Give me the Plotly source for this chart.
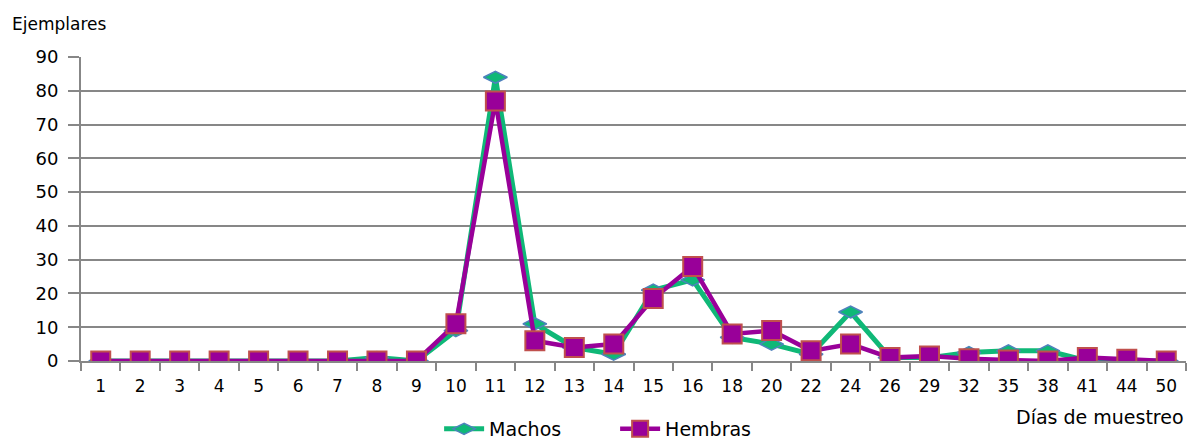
import plotly.graph_objects as go

# Sampling days (categorical axis) and counts per sex
dias = ["1", "2", "3", "4", "5", "6", "7", "8", "9", "10", "11", "12", "13", "14",
        "15", "16", "18", "20", "22", "24", "26", "29", "32", "35", "38", "41", "44", "50"]
machos = [0, 0, 0, 0, 0, 0, 0, 1, 0, 9, 84, 11, 4, 2,
          21, 24, 7, 5, 2, 14.5, 1, 1, 2.5, 3, 3, 0, 0, 0]
hembras = [0, 0, 0, 0, 0, 0, 0, 0, 0, 11, 77, 6, 4, 5,
           18.5, 28, 8, 9, 3, 5, 1, 1.5, 0.7, 0.3, 0, 1, 0.5, 0]

y_ticks = [0, 10, 20, 30, 40, 50, 60, 70, 80, 90]

FONT = "DejaVu Sans"
GRID = "#878787"

fig = go.Figure()
fig.add_trace(go.Scatter(
    x=dias, y=machos, name="Machos", mode="lines+markers",
    line=dict(color="#0fb877", width=5),
    marker=dict(symbol="diamond-wide", size=17, color="#0fb877",
                line=dict(color="#4f81bd", width=1.5)),
))
fig.add_trace(go.Scatter(
    x=dias, y=hembras, name="Hembras", mode="lines+markers",
    line=dict(color="#990099", width=4.5),
    marker=dict(symbol="square", size=19, color="#990099",
                line=dict(color="#c0504d", width=2)),
))

fig.update_layout(
    width=1190, height=448,
    margin=dict(l=81, r=4, t=57, b=87, autoexpand=False),
    paper_bgcolor="white", plot_bgcolor="white",
    font=dict(family=FONT, size=16, color="#000000"),
    showlegend=True,
    legend=dict(orientation="h", xref="container", yref="container",
                x=0.369, xanchor="left", y=-0.013, yanchor="bottom",
                entrywidth=121, entrywidthmode="pixels",
                font=dict(family=FONT, size=19, color="#000000"),
                itemwidth=40, tracegroupgap=0),
    xaxis=dict(
        type="category", categoryorder="array", categoryarray=dias,
        range=[-0.5, len(dias) - 0.5], autorange=False,
        showgrid=False, showline=True, linecolor=GRID, linewidth=2,
        ticks="outside", tickson="boundaries", ticklen=8, tickcolor=GRID, tickwidth=2,
        tickfont=dict(family=FONT, size=17, color="#000000"),
        ticklabelstandoff=9,
        zeroline=False,
    ),
    yaxis=dict(
        range=[0, 90], tickvals=y_ticks, ticktext=[str(v) for v in y_ticks],
        showgrid=True, gridcolor=GRID, gridwidth=2,
        showline=True, linecolor=GRID, linewidth=2,
        ticks="outside", ticklen=11, tickcolor=GRID, tickwidth=2,
        tickfont=dict(family=FONT, size=18, color="#000000"),
        ticklabelstandoff=6,
        zeroline=False,
    ),
    annotations=[
        dict(text="Ejemplares", xref="paper", yref="paper", x=-0.064, y=1.11,
             xanchor="left", yanchor="middle", showarrow=False,
             font=dict(family=FONT, size=17, color="#000000")),
        dict(text="Días de muestreo", xref="paper", yref="paper", x=1.0, y=-0.185,
             xanchor="right", yanchor="middle", showarrow=False,
             font=dict(family=FONT, size=19, color="#000000")),
    ],
)

fig.write_html("out.html")
